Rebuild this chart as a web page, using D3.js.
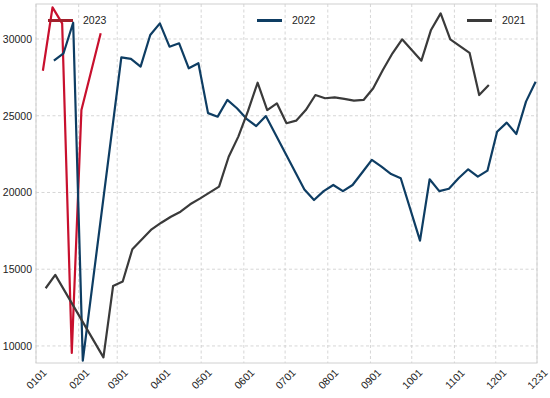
<!DOCTYPE html>
<html>
<head>
<meta charset="utf-8">
<script src="https://cdn.jsdelivr.net/npm/d3@7"></script>
<style>
  body { margin: 0; background: #fff; }
  svg { display: block; font-family: "Liberation Sans", Arial, sans-serif; }
</style>
</head>
<body>
<svg class="chart" width="550" height="398"></svg>
<script>
// weekly readings, MMDD on a shared calendar year
const dates2023 = ["0106", "0113", "0120", "0127", "0203", "0210", "0217"];
const values2023 = [27930, 32060, 31020, 9540, 25380, 27870, 30370];

const dates2022 = ["0114", "0121", "0128", "0204", "0304", "0311", "0318", "0325", "0401", "0408",
  "0415", "0422", "0429", "0506", "0513", "0520", "0527", "0603", "0610", "0617",
  "0715", "0722", "0729", "0805", "0812", "0819", "0826", "0902", "0909", "0916",
  "0923", "1007", "1014", "1021", "1028", "1104", "1111", "1118", "1125", "1202",
  "1209", "1216", "1223", "1230"];
const values2022 = [28590, 29070, 31060, 9040, 28800, 28700, 28200, 30260, 31020, 29500,
  29720, 28090, 28420, 25170, 24940, 26030, 25490, 24800, 24330, 24980,
  20200, 19510, 20090, 20490, 20090, 20490, 21300, 22120, 21680, 21200,
  20930, 16860, 20860, 20090, 20240, 20930, 21510, 21030, 21420, 23960,
  24550, 23810, 25920, 27220];

const dates2021 = ["0108", "0115", "0219", "0226", "0305", "0312", "0319", "0326", "0402", "0409",
  "0416", "0423", "0430", "0507", "0514", "0521", "0528", "0604", "0611", "0618",
  "0625", "0702", "0709", "0716", "0723", "0730", "0806", "0813", "0820", "0827",
  "0903", "0910", "0917", "0924", "1001", "1008", "1015", "1022", "1029", "1105",
  "1112", "1119", "1126"];
const values2021 = [13760, 14630, 9260, 13900, 14200, 16300, 16950, 17600, 18030, 18420,
  18750, 19230, 19600, 19990, 20380, 22330, 23640, 25300, 27150, 25370,
  25810, 24510, 24680, 25370, 26350, 26140, 26200, 26100, 25980, 26030,
  26790, 27980, 29070, 29980, 29280, 28590, 30590, 31670, 29980, 29540,
  29100, 26350, 27000];

const xTicks = ["0101", "0201", "0301", "0401", "0501", "0601", "0701", "0801", "0901", "1001", "1101", "1201", "1231"];
const yTicks = [10000, 15000, 20000, 25000, 30000];

let width = 550;
let height = 398;
let margin = ({top: 4, right: 13, bottom: 35, left: 36});

let parseDay = d3.timeParse("%Y%m%d");
let toDay = s => parseDay("2021" + s);

let series = [
  {name: "2023", dates: dates2023, values: values2023, color: "#c8102e", key: "#a3202c", lx: 48},
  {name: "2022", dates: dates2022, values: values2022, color: "#0e3d63", key: "#0e3d63", lx: 257},
  {name: "2021", dates: dates2021, values: values2021, color: "#3a3a3a", key: "#3a3a3a", lx: 467}
];

let x = d3.scaleTime()
  .domain([toDay("0101"), toDay("1231")])
  .range([margin.left, width - margin.right]);

let y = d3.scaleLinear()
  .domain([8890, 32280])
  .range([height - margin.bottom, margin.top]);

let svg = d3.select(".chart")
  .attr("viewBox", [0, 0, width, height]);

// grid
svg.append("g")
  .attr("stroke", "#cccccc")
  .attr("stroke-width", 0.8)
  .attr("stroke-dasharray", "3,2.5")
  .call(g => g.selectAll(".vx")
    .data(xTicks)
    .join("line")
      .attr("x1", d => x(toDay(d)))
      .attr("x2", d => x(toDay(d)))
      .attr("y1", margin.top)
      .attr("y2", height - margin.bottom))
  .call(g => g.selectAll(".hy")
    .data(yTicks)
    .join("line")
      .attr("x1", margin.left)
      .attr("x2", width - margin.right)
      .attr("y1", d => y(d))
      .attr("y2", d => y(d)));

// frame
svg.append("rect")
  .attr("x", margin.left)
  .attr("y", margin.top)
  .attr("width", width - margin.left - margin.right)
  .attr("height", height - margin.top - margin.bottom)
  .attr("fill", "none")
  .attr("stroke", "#d0d0d0")
  .attr("stroke-width", 1);

let xAxis = g => g
  .attr("transform", `translate(0,${height - margin.bottom})`)
  .call(d3.axisBottom(x).tickValues(xTicks.map(toDay)).tickFormat(d3.timeFormat("%m%d")).tickSize(0))
  .call(g => g.select(".domain").remove())
  .call(g => g.selectAll(".tick text")
    .attr("y", 0)
    .attr("dy", "0.35em")
    .attr("text-anchor", "middle")
    .attr("transform", "translate(0,16) rotate(-45)"));

let yAxis = g => g
  .attr("transform", `translate(${margin.left},0)`)
  .call(d3.axisLeft(y).tickValues(yTicks).tickFormat(d3.format("d")).tickSize(0).tickPadding(4))
  .call(g => g.select(".domain").remove());

svg.append("g").call(xAxis);
svg.append("g").call(yAxis);

svg.selectAll(".tick text")
  .attr("fill", "#222")
  .attr("font-size", 10.5)
  .attr("font-family", "\"Liberation Sans\", Arial, sans-serif");

let line = d3.line()
  .x(d => x(toDay(d[0])))
  .y(d => y(d[1]));

svg.append("g")
  .attr("fill", "none")
  .attr("stroke-width", 2.2)
  .attr("stroke-linejoin", "round")
  .selectAll("path")
  .data(series)
  .join("path")
    .attr("stroke", d => d.color)
    .attr("d", d => line(d3.zip(d.dates, d.values)));

// three separate legends along the top, no box
let legend = svg.append("g")
  .selectAll("g")
  .data(series)
  .join("g")
    .attr("transform", d => `translate(${d.lx},20.5)`);

legend.append("line")
  .attr("x1", 0)
  .attr("x2", 25)
  .attr("stroke", d => d.key)
  .attr("stroke-width", 3);

legend.append("text")
  .attr("x", 35)
  .attr("dy", "0.35em")
  .attr("font-size", 10.5)
  .attr("fill", "#222")
  .text(d => d.name);
</script>
</body>
</html>
